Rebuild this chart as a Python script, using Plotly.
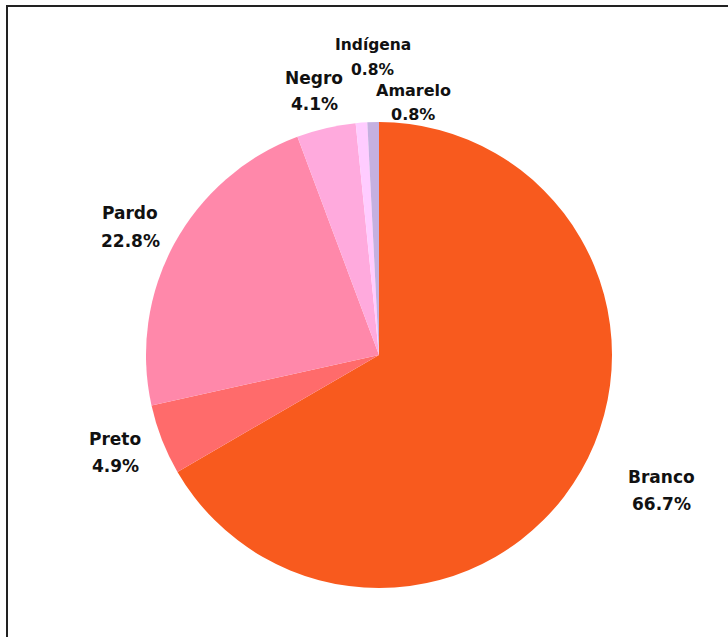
import plotly.graph_objects as go

# Population share by race / colour
labels = ["Branco", "Preto", "Pardo", "Negro", "Indígena", "Amarelo"]
values = [66.7, 4.9, 22.8, 4.1, 0.8, 0.8]
colors = ["#F85A1E", "#FF6B6B", "#FF88AA", "#FFAADD", "#FFCCFF", "#C5B0E0"]

# Label placement: centre x, name-line y, value-line y, font size (pixels)
label_pos = {
    "Branco": (661, 477, 504, 17),
    "Preto": (115, 439, 466, 17),
    "Pardo": (130, 213, 241, 17),
    "Negro": (314, 78, 104, 17),
    "Indígena": (373, 45, 70, 15.5),
    "Amarelo": (413, 90, 115, 16),
}

W, H = 728, 637

fig = go.Figure()
fig.add_trace(go.Pie(
    labels=labels,
    values=values,
    marker=dict(colors=colors, line=dict(width=0)),
    sort=False,
    direction="clockwise",
    rotation=0,
    textinfo="none",
    hoverinfo="label+percent",
    showlegend=False,
    domain=dict(x=[146 / W, 612 / W], y=[(H - 588) / H, (H - 122) / H]),
))

for lab, val in zip(labels, values):
    px, py1, py2, fs = label_pos[lab]
    for text, py in ((lab, py1), (f"{val:.1f}%", py2)):
        fig.add_annotation(
            x=px / W, y=1 - py / H, xref="paper", yref="paper",
            text=text, showarrow=False,
            xanchor="center", yanchor="middle",
            font=dict(family="DejaVu Sans", size=fs, color="#111111", weight="bold"),
        )

# Frame around the chart
fig.add_shape(
    type="rect", xref="paper", yref="paper",
    x0=7 / W, x1=1.05, y0=-0.05, y1=1 - 6 / H,
    line=dict(color="#222222", width=2), fillcolor="rgba(0,0,0,0)",
)

fig.update_layout(
    width=W, height=H,
    margin=dict(l=0, r=0, t=0, b=0),
    paper_bgcolor="white", plot_bgcolor="white",
)

fig.write_html("out.html")
